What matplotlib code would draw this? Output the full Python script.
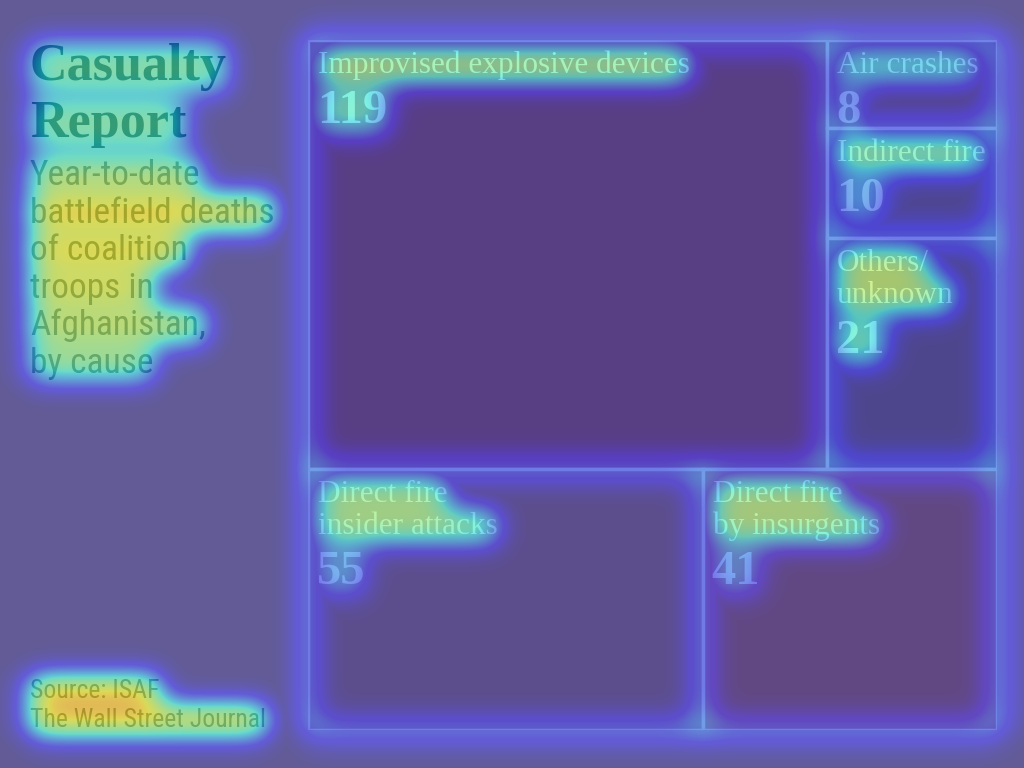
import numpy as np
import matplotlib
matplotlib.use("Agg")
import matplotlib.pyplot as plt
from matplotlib import font_manager
from matplotlib.patches import Rectangle

# data: year-to-date deaths of coalition troops by cause
causes = ['Improvised explosive devices', 'Air crashes', 'Indirect fire',
          'Others/\nunknown', 'Direct fire\ninsider attacks', 'Direct fire\nby insurgents']
deaths = [119, 8, 10, 21, 55, 41]
top_main = [0]
top_side = [1, 2, 3]
bottom_row = [4, 5]

title = 'Casualty\nReport'
subtitle = ['Year-to-date', 'battlefield deaths', 'of coalition',
            'troops in', 'Afghanistan,', 'by cause']
source = ['Source: ISAF', 'The Wall Street Journal']

# attention weights drawn over the chart (reading glow)
label_heat = [0.66, 0.46, 0.62, 0.64, 0.58, 0.56]
number_heat = [0.44, 0.34, 0.30, 0.48, 0.30, 0.27]
subtitle_heat = [0.60, 0.74, 0.72, 0.68, 0.62, 0.55]
title_heat = 0.47
source_heat = 0.88

rect_colors = ['#b07c85', '#a98b95', '#9c8ca2', '#9c8c99', '#b89c99', '#c29085']

installed = {f.name for f in font_manager.fontManager.ttflist}
def first_font(*names):
    for n in names:
        if n in installed:
            return n
    return 'DejaVu Sans'

slab = first_font('Liberation Serif', 'DejaVu Serif')
narrow = first_font('Liberation Sans Narrow', 'Roboto Condensed', 'Roboto', 'Open Sans')

W, H = 1024, 768
fig = plt.figure(figsize=(W / 100, H / 100), dpi=100)
fig.patch.set_facecolor('#c4b6ac')

ax = fig.add_axes([308 / W, 38 / H, 689 / W, 690 / H])
ax.set_xlim(0, 1)
ax.set_ylim(1, 0)
ax.set_axis_off()

# slice-and-dice layout from the values
total = sum(deaths)
top_sum = sum(deaths[i] for i in top_main + top_side)
top_h = top_sum / total
rects = {}
x = 0
for i in top_main:
    w = deaths[i] / top_sum
    rects[i] = (x, 0, w, top_h)
    x += w
side_w = 1 - x
side_sum = sum(deaths[i] for i in top_side)
y = 0
for i in top_side:
    h = top_h * deaths[i] / side_sum
    rects[i] = (x, y, side_w, h)
    y += h
bot_sum = sum(deaths[i] for i in bottom_row)
x = 0
for i in bottom_row:
    w = deaths[i] / bot_sum
    rects[i] = (x, top_h, w, 1 - top_h)
    x += w

heat_items = []
for i, (x0, y0, w, h) in rects.items():
    ax.add_patch(Rectangle((x0, y0), w, h, facecolor=rect_colors[i],
                           edgecolor='#e2d9d2', linewidth=2.5))
    lines = causes[i].split('\n')
    for k, line in enumerate(lines):
        t = ax.annotate(line, xy=(x0, y0), xytext=(10, -33 - 32 * k),
                        textcoords='offset pixels', va='baseline', ha='left',
                        fontsize=22.5, family=slab, color='#efe6de')
        heat_items.append((t, label_heat[i]))
    t = ax.annotate(str(deaths[i]), xy=(x0, y0),
                    xytext=(9, -33 - 32 * (len(lines) - 1) - 50),
                    textcoords='offset pixels', va='baseline', ha='left',
                    fontsize=35, family=slab, fontweight='bold', color='#efe6de')
    heat_items.append((t, number_heat[i]))

# left panel text
for k, line in enumerate(title.split('\n')):
    t = fig.text(30 / W, 1 - (80 + 57 * k) / H, line, fontsize=37.5, family=slab,
                 fontweight='bold', color='#25393a', va='baseline')
    heat_items.append((t, title_heat))
for k, line in enumerate(subtitle):
    t = fig.text(30 / W, 1 - (185 + 37.6 * k) / H, line, fontsize=25.5, family=narrow,
                 color='#555555', va='baseline')
    heat_items.append((t, subtitle_heat[k]))
for k, line in enumerate(source):
    t = fig.text(30 / W, 1 - (698 + 29 * k) / H, line, fontsize=18.5, family=narrow,
                 color='#5a5a5a', va='baseline')
    heat_items.append((t, source_heat))

# build the glow field from where the texts ended up
fig.canvas.draw()
renderer = fig.canvas.get_renderer()
heat = np.zeros((H, W))
for t, wgt in heat_items:
    bb = t.get_window_extent(renderer)
    c0, c1 = int(max(bb.x0, 0)), int(min(bb.x1, W))
    r0, r1 = int(max(H - bb.y1, 0)), int(min(H - bb.y0, H))
    heat[r0:r1, c0:c1] = np.maximum(heat[r0:r1, c0:c1], wgt)
edge = np.zeros((H, W))
for (x0, y0, w, h) in rects.values():
    px0, py1 = ax.transData.transform((x0, y0))
    px1, py0 = ax.transData.transform((x0 + w, y0 + h))
    c0, c1 = int(px0), int(px1)
    r0, r1 = int(H - py1), int(H - py0)
    for r in (r0, r1):
        edge[max(r - 5, 0):r + 5, c0:c1] = 1.0
    for c in (c0, c1):
        edge[r0:r1, max(c - 5, 0):c + 5] = 1.0

def gauss_matrix(n, s):
    idx = np.arange(n)
    g = np.exp(-(idx[:, None] - idx[None, :]) ** 2 / (2 * s * s))
    return g / g.sum(axis=1, keepdims=True)

gy, gx = gauss_matrix(H, 14), gauss_matrix(W, 14)
heat = gy @ heat @ gx.T
edge = gy @ edge @ gx.T * 0.55
heat = np.clip(np.maximum(heat, edge), 0, 1)

ov = fig.add_axes([0, 0, 1, 1], zorder=10)
ov.imshow(heat, cmap='jet', vmin=0, vmax=1, alpha=0.5, extent=(0, W, H, 0),
          aspect='auto', interpolation='bilinear')
ov.set_xlim(0, W)
ov.set_ylim(H, 0)
ov.set_axis_off()

fig.savefig('out.png', dpi=100)
